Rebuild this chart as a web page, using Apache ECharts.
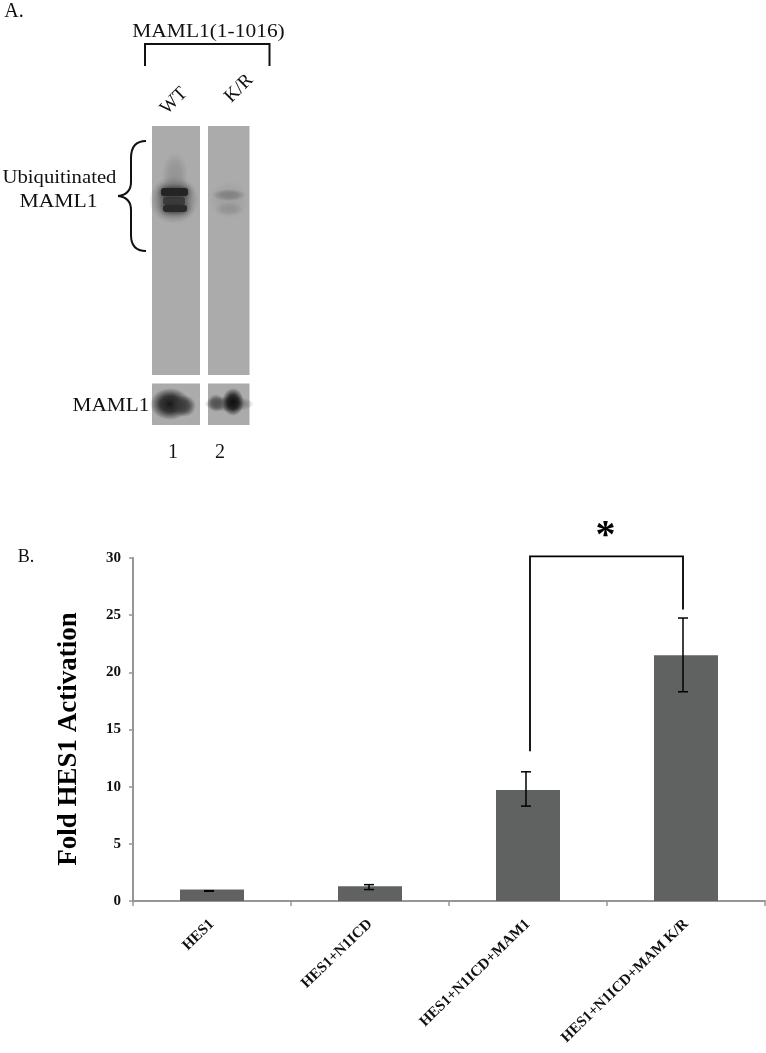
<!DOCTYPE html>
<html>
<head>
<meta charset="utf-8">
<style>
  html, body { margin: 0; background: #fff; }
  #main { width: 766px; height: 1053px; }
</style>
<script src="https://cdn.jsdelivr.net/npm/echarts@6/dist/echarts.min.js"></script>
</head>
<body>
<div id="main"></div>
<script>
var serif = '"Liberation Serif", "Times New Roman", serif';

// panel B data
var categories = ['HES1', 'HES1+N1ICD', 'HES1+N1ICD+MAM1', 'HES1+N1ICD+MAM K/R'];
var foldValues = [1.0, 1.3, 9.7, 21.5];
var errLow = [0.86, 1.0, 8.3, 18.3];
var errHigh = [0.9, 1.43, 11.3, 24.75];
// significance bracket: [category index, value]
var bracket = [[2, 13.1], [2, 30.15], [3, 30.15], [3, 25.5]];

// panel A labels
var laneNames = ['WT', 'K/R'];
var laneNumbers = ['1', '2'];

var myChart = echarts.init(document.getElementById('main'));

// the hand-placed error bars and bracket sit a little left of the bar centres
function nudge(cat) {
  return [-3, -1, -2, -3][cat];
}

// soft blot band: a circle scaled to an ellipse so the radial fade follows it
function band(cx, cy, rx, ry, color, a) {
  return {
    type: 'circle',
    z: 3,
    x: cx, y: cy,
    scaleX: rx / ry,
    shape: { cx: 0, cy: 0, r: ry },
    style: {
      fill: new echarts.graphic.RadialGradient(0.5, 0.5, 0.5, [
        { offset: 0, color: 'rgba(' + color + ',' + a + ')' },
        { offset: 0.5, color: 'rgba(' + color + ',' + a * 0.8 + ')' },
        { offset: 1, color: 'rgba(' + color + ',0)' }
      ])
    }
  };
}
// blurred block for the saturated part of the blot
function block(x, y, w, h, color, blur) {
  return {
    type: 'rect', z: 3,
    shape: { x: x, y: y, width: w, height: h, r: 3 },
    style: { fill: color, shadowBlur: blur, shadowColor: color }
  };
}
function panel(x, y, w, h) {
  return { type: 'rect', z: 2, shape: { x: x, y: y, width: w, height: h }, style: { fill: '#ababab' } };
}
function label(text, x, y, size, extra) {
  var el = {
    type: 'text', z: 5, x: x, y: y,
    style: { text: text, fill: '#111', font: size + 'px ' + serif, textAlign: 'center', textVerticalAlign: 'middle' }
  };
  return Object.assign(el, extra || {});
}
function curve(x1, y1, cx1, cy1, cx2, cy2, x2, y2) {
  return {
    type: 'bezierCurve', z: 4,
    shape: { x1: x1, y1: y1, cpx1: cx1, cpy1: cy1, cpx2: cx2, cpy2: cy2, x2: x2, y2: y2 },
    style: { fill: 'none', stroke: '#111', lineWidth: 2 }
  };
}

var blotParts = [
  panel(152, 126, 48, 249),
  panel(208, 126, 41.5, 249),
  panel(152, 383.5, 48, 41.5),
  panel(208, 383.5, 41.5, 41.5),
  // upper blot, lane 1
  band(175, 176, 13, 24, '125,125,125', 0.5),
  band(174, 200, 25, 24, '95,95,95', 0.7),
  block(163, 197, 22, 8, '#3e3e3e', 8),
  block(161, 188, 27, 8, '#242424', 6),
  block(163, 205, 24, 7, '#2a2a2a', 6),
  // upper blot, lane 2
  band(229, 200, 20, 20, '150,150,150', 0.5),
  band(229, 195, 17, 6, '125,125,125', 0.9),
  band(229, 209, 14, 7, '140,140,140', 0.7),
  // lower blot
  band(170, 404, 20, 16, '25,25,25', 1),
  band(184, 406, 12, 11, '55,55,55', 0.9),
  band(229, 404, 25, 8, '90,90,90', 0.8),
  band(233, 402, 11, 14, '15,15,15', 1),
  band(216, 403, 9, 9, '70,70,70', 0.8),
  // top bracket
  {
    type: 'polyline', z: 4,
    shape: { points: [[145, 66], [145, 44], [269.5, 44], [269.5, 66]] },
    style: { fill: 'none', stroke: '#111', lineWidth: 2 }
  },
  // curly brace
  curve(146, 141, 136, 141, 131, 146, 131, 158),
  curve(131, 158, 131, 170, 131, 176, 131, 182),
  curve(131, 182, 131, 190, 127, 195, 118, 196),
  curve(118, 196, 127, 197, 131, 202, 131, 210),
  curve(131, 210, 131, 218, 131, 226, 131, 235),
  curve(131, 235, 131, 246, 136, 251, 146, 251),
  // text
  label('A.', 14, 12, 20),
  label('MAML1(1-1016)', 208.5, 32, 19.5, { scaleX: 1.1 }),
  label('Ubiquitinated', 59.5, 178, 19, { scaleX: 1.09 }),
  label('MAML1', 58.5, 202, 19, { scaleX: 1.14 }),
  label('MAML1', 111, 406, 19, { scaleX: 1.12 }),
  label(laneNames[0], 174, 101, 19, { rotation: Math.PI / 4 }),
  label(laneNames[1], 239, 88.5, 19, { rotation: Math.PI / 4 }),
  label(laneNumbers[0], 173, 453, 20),
  label(laneNumbers[1], 220, 453, 20),
  label('B.', 26, 557, 18),
  {
    type: 'text', z: 5, x: 605.5, y: 537,
    style: { text: '*', fill: '#000', font: 'bold 40px ' + serif, textAlign: 'center', textVerticalAlign: 'middle' }
  }
];

var option = {
  animation: false,
  backgroundColor: '#fff',
  textStyle: { fontFamily: serif },
  grid: { left: 133, top: 558, width: 632, height: 343, containLabel: false },
  xAxis: {
    type: 'category',
    data: categories,
    boundaryGap: true,
    axisLine: { lineStyle: { color: '#969696', width: 2 } },
    axisTick: { show: true, alignWithLabel: false, length: 5, lineStyle: { color: '#969696', width: 1.5 } },
    axisLabel: {
      interval: 0, rotate: 44, margin: 21,
      color: '#111', fontWeight: 'bold', fontSize: 15, fontFamily: serif
    }
  },
  yAxis: {
    type: 'value',
    min: 0, max: 30, interval: 5,
    name: 'Fold HES1 Activation',
    nameLocation: 'middle',
    nameGap: 50,
    nameTextStyle: { color: '#000', fontWeight: 'bold', fontSize: 27, fontFamily: serif, padding: [0, 19, 0, 0] },
    axisLine: { show: true, lineStyle: { color: '#969696', width: 2 } },
    axisTick: { show: true, length: 4, lineStyle: { color: '#969696', width: 1.5 } },
    splitLine: { show: false },
    axisLabel: { margin: 12, color: '#111', fontWeight: 'bold', fontSize: 15, fontFamily: serif }
  },
  series: [
    {
      type: 'bar',
      data: foldValues,
      barWidth: 64,
      itemStyle: { color: '#606261' }
    },
    {
      // error bars
      type: 'custom',
      z: 5,
      clip: false,
      data: categories.map(function (c, i) { return [i, errLow[i], errHigh[i]]; }),
      encode: { x: 0, y: [1, 2] },
      renderItem: function (params, api) {
        var dx = nudge(api.value(0));
        var lo = api.coord([api.value(0), api.value(1)]);
        var hi = api.coord([api.value(0), api.value(2)]);
        var st = { stroke: '#000', lineWidth: 1.5, fill: 'none' };
        return {
          type: 'group',
          x: dx,
          children: [
            { type: 'line', shape: { x1: lo[0], y1: lo[1], x2: hi[0], y2: hi[1] }, style: st },
            { type: 'line', shape: { x1: lo[0] - 5, y1: lo[1], x2: lo[0] + 5, y2: lo[1] }, style: st },
            { type: 'line', shape: { x1: hi[0] - 5, y1: hi[1], x2: hi[0] + 5, y2: hi[1] }, style: st }
          ]
        };
      }
    },
    {
      // significance bracket
      type: 'custom',
      z: 4,
      clip: false,
      data: [0],
      renderItem: function (params, api) {
        var pts = bracket.map(function (p) {
          var c = api.coord(p);
          return [c[0] + nudge(p[0]) + (p[0] === 2 ? 4 : 0), c[1]];
        });
        return {
          type: 'polyline',
          shape: { points: pts },
          style: { stroke: '#000', lineWidth: 1.8, fill: 'none' }
        };
      }
    }
  ],
  graphic: { elements: blotParts }
};
myChart.setOption(option);
</script>
</body>
</html>
